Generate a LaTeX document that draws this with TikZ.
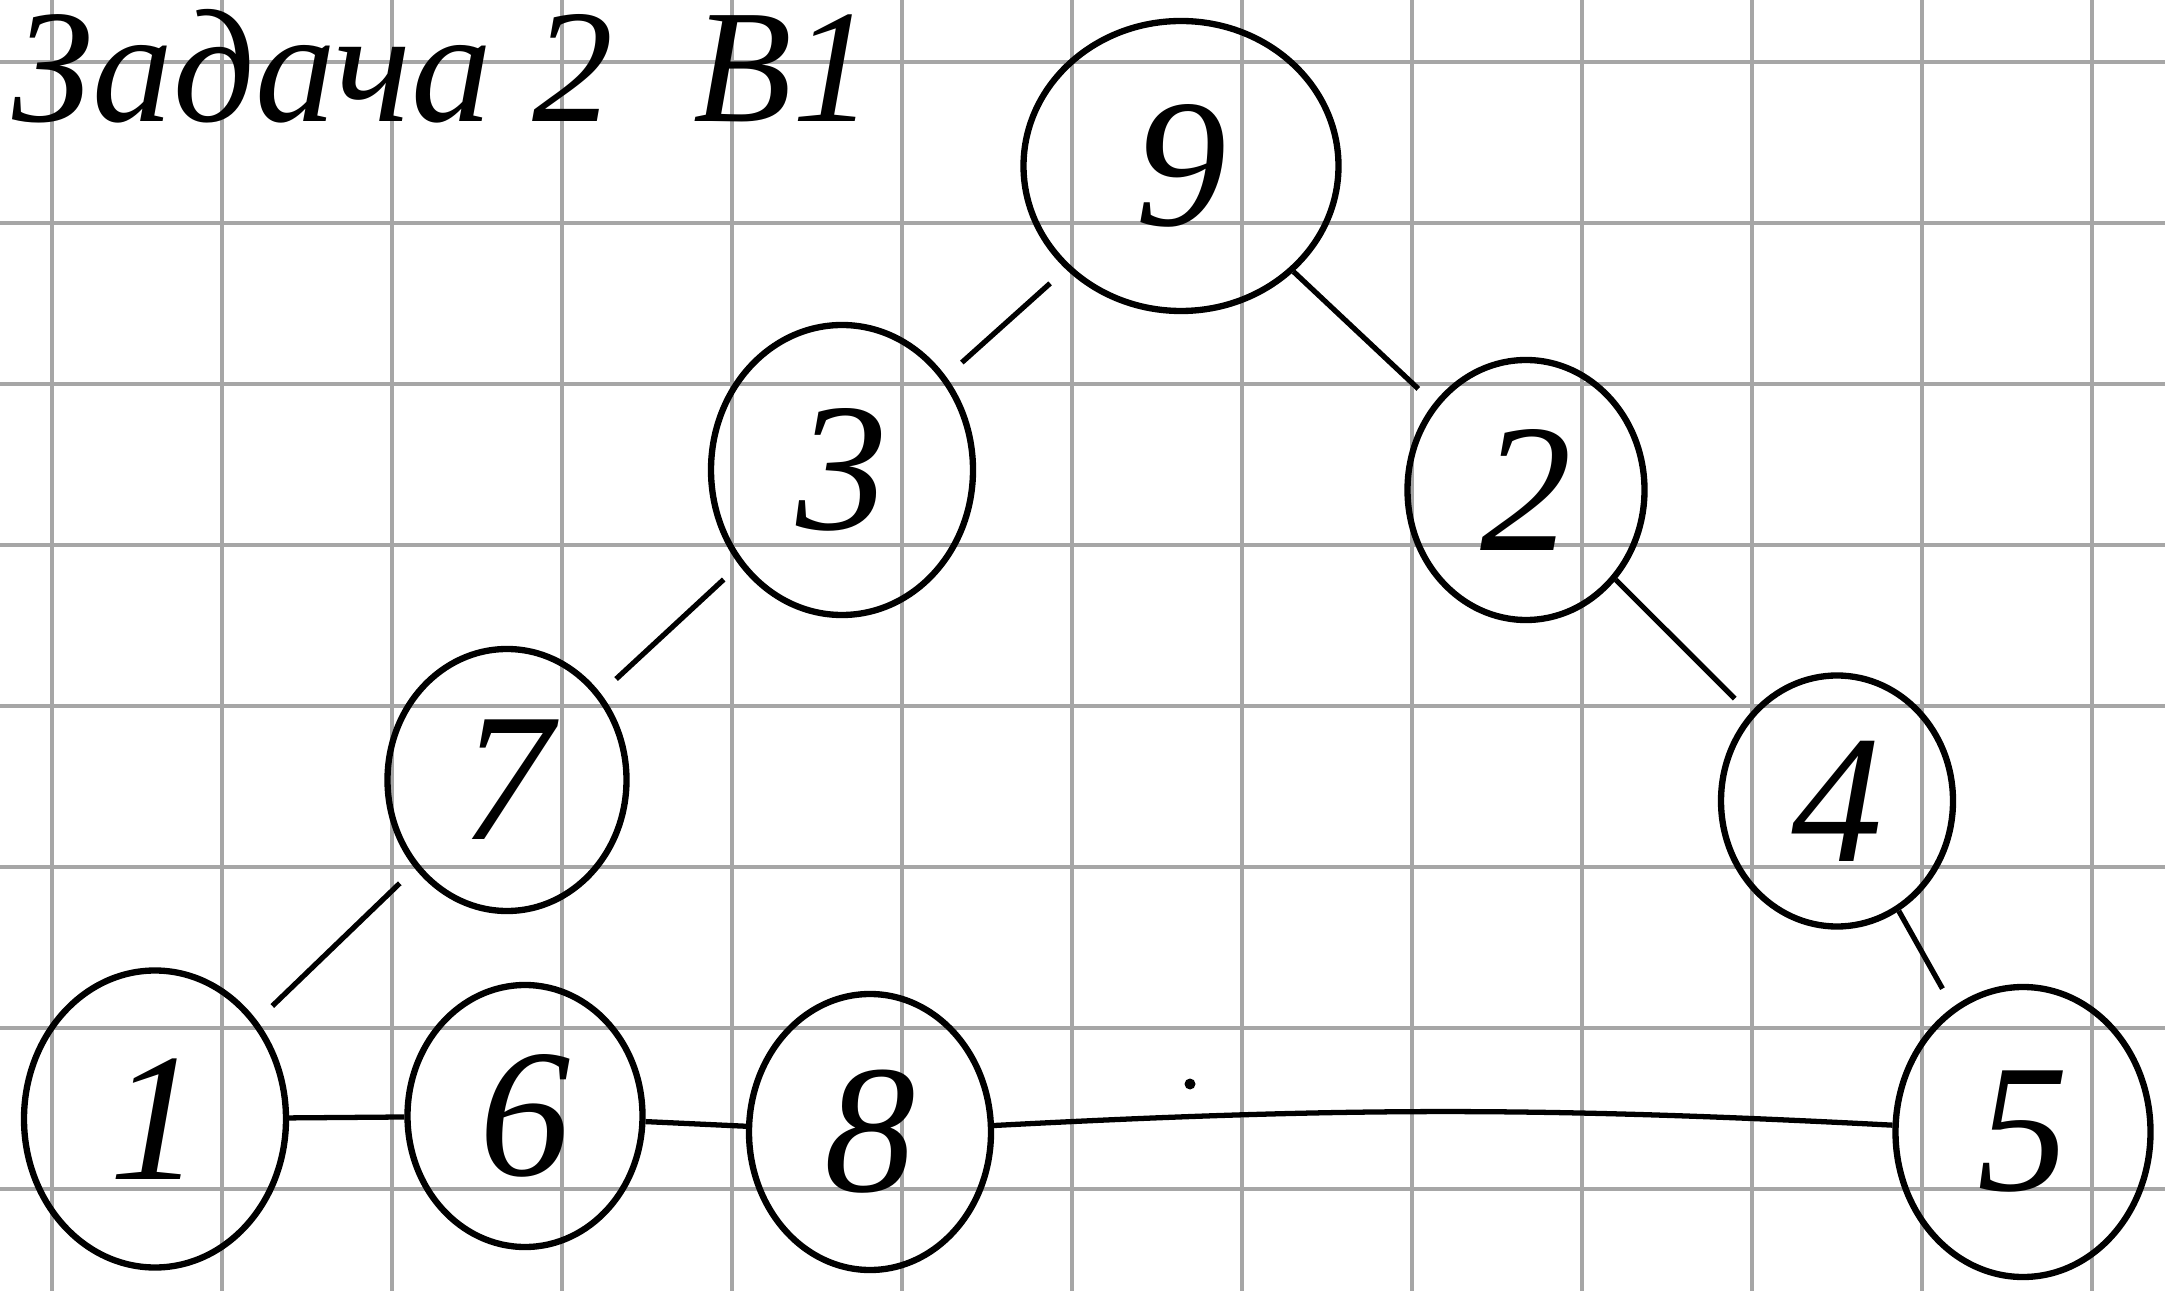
\documentclass[tikz,border=0pt]{standalone}
\usepackage{fontspec}
\setmainfont{Liberation Serif}
\usetikzlibrary{shapes.geometric}
\begin{document}
\begin{tikzpicture}[x=1cm,y=1cm,
  vert/.style={draw, ellipse, line width=1.8pt, inner sep=0pt,
    minimum width=2.45cm, minimum height=2.7cm,
    font=\fontsize{52}{56}\selectfont\itshape},
  edge/.style={draw, line width=1.5pt, shorten >=6pt, shorten <=6pt},
  gridline/.style={draw=black!35, line width=0.9pt}]
\useasboundingbox (0,0) rectangle (21.65,-12.91);
\fill[white] (0,0) rectangle (21.65,-12.91);

% squared paper
\foreach \i in {0,...,12}
  \path[gridline] (0.52+1.70*\i,0) -- (0.52+1.70*\i,-12.91);
\foreach \j in {0,...,7}
  \path[gridline] (0,-0.62-1.61*\j) -- (21.65,-0.62-1.61*\j);

\node[anchor=base west, font=\fontsize{46}{52}\selectfont\itshape, inner sep=0pt] (title) at (0.12,-1.22) {Задача 2~~В1};

\node[vert, minimum width=3.15cm, minimum height=2.9cm] (n9) at (11.81,-1.66) {9};
\node[vert, minimum width=2.62cm, minimum height=2.9cm] (n3) at (8.42,-4.70) {3};
\node[vert, minimum width=2.37cm, minimum height=2.6cm] (n2) at (15.26,-4.90) {2};
\node[vert, minimum width=2.39cm, minimum height=2.62cm] (n7) at (5.07,-7.80) {7};
\node[vert, minimum width=2.32cm, minimum height=2.51cm] (n4) at (18.37,-8.01) {4};
\node[vert, minimum width=2.62cm, minimum height=2.97cm] (n1) at (1.55,-11.19) {1};
\node[vert, minimum width=2.35cm, minimum height=2.62cm] (n6) at (5.25,-11.16) {6};
\node[vert, minimum width=2.42cm, minimum height=2.76cm] (n8) at (8.70,-11.32) {8};
\node[vert, minimum width=2.55cm, minimum height=2.9cm] (n5) at (20.23,-11.32) {5};

\path[edge] (n9) -- (n3);
\path[edge] (n3) -- (n7);
\path[edge] (n7) -- (n1);
\path[edge, shorten <=0pt] (n9) -- (n2);
\path[edge, shorten <=0pt] (n2) -- (n4);
\path[edge, shorten <=0pt] (n4) -- (n5);
\path[edge, shorten >=0pt, shorten <=0pt] (n1) -- (n6);
\path[edge, shorten >=0pt, shorten <=0pt] (n6) -- (n8);
\path[edge, shorten >=0pt, shorten <=0pt] (n8) to[bend left=3] (n5);

\coordinate (dot) at (11.90,-10.84);
\fill (dot) circle (0.055);
\end{tikzpicture}
\end{document}
